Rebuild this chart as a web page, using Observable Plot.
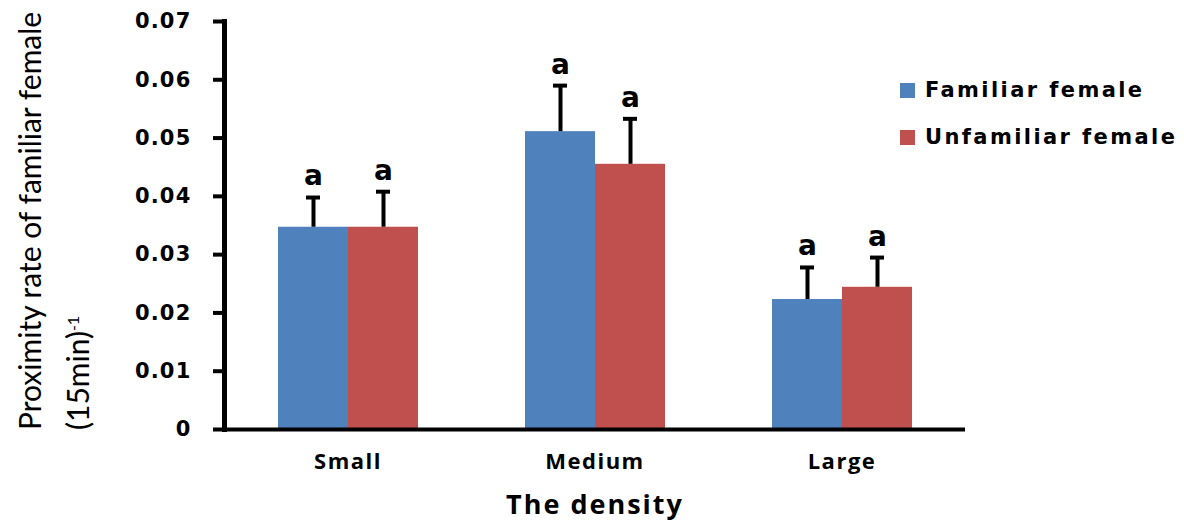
<!DOCTYPE html>
<html>
<head>
<meta charset="utf-8">
<script src="https://cdn.jsdelivr.net/npm/d3@7"></script>
<script src="https://cdn.jsdelivr.net/npm/@observablehq/plot@0.6"></script>
<style>
  html, body { margin: 0; padding: 0; background: #fff; }
  #wrap { position: relative; width: 1184px; height: 524px; }
  .chart g[aria-label="y-axis tick label"] text {
    font: bold 21px "DejaVu Sans", sans-serif; letter-spacing: 1.2px;
  }
  .chart g[aria-label="fx-axis tick label"] text {
    font: bold 22px "Open Sans", sans-serif; letter-spacing: 1.5px;
  }
  .chart g[aria-label="fx-axis label"] text {
    font: bold 27px "Open Sans", sans-serif; letter-spacing: 2px;
  }
  .chart g[aria-label="text"] text {
    font: bold 28px "DejaVu Sans", sans-serif;
  }
  #ylabel {
    position: absolute; left: 0; top: 430px; width: 430px;
    transform-origin: 0 0; transform: rotate(-90deg);
    font: 30px Lato, sans-serif; line-height: 48px; padding-top: 5px;
    white-space: nowrap; color: #000;
  }
  #ylabel sup { font-size: 16px; vertical-align: 10px; line-height: 0; }
  #legend {
    position: absolute; left: 900px; top: 76px;
    font: bold 21px "DejaVu Sans", sans-serif; letter-spacing: 2.4px; color: #000;
  }
  #legend .item { display: flex; align-items: center; height: 28px; margin-bottom: 19px; }
  #legend .sw { width: 15px; height: 15px; margin-right: 10px; flex: none; }
</style>
</head>
<body>
<div id="wrap"></div>
<script>
// Density groups on the x axis and the two female categories compared in each
const categories = ["Small", "Medium", "Large"];
const series = ["Familiar female", "Unfamiliar female"];

// Mean proximity rate per 15 min and its standard error, by density group
const familiarMean = [0.0347, 0.0511, 0.0223];
const familiarSE = [0.0051, 0.0079, 0.0055];
const unfamiliarMean = [0.0347, 0.0455, 0.0244];
const unfamiliarSE = [0.0061, 0.0078, 0.0051];

// Significance letters written above each error bar
const familiarLetters = ["a", "a", "a"];
const unfamiliarLetters = ["a", "a", "a"];

// Y axis ticks
const yTicks = [0, 0.01, 0.02, 0.03, 0.04, 0.05, 0.06, 0.07];

const colors = ["#4F81BD", "#C0504D"];

const rows = categories.flatMap((density, i) => [
  {density, series: series[0], mean: familiarMean[i], top: familiarMean[i] + familiarSE[i], letter: familiarLetters[i]},
  {density, series: series[1], mean: unfamiliarMean[i], top: unfamiliarMean[i] + unfamiliarSE[i], letter: unfamiliarLetters[i]}
]);

const chart = Plot.plot({
  className: "chart",
  width: 1184,
  height: 524,
  marginLeft: 224,
  marginRight: 219,
  marginTop: 21,
  marginBottom: 95,
  fx: {domain: categories, paddingInner: 0, paddingOuter: 0, label: null},
  x: {domain: series, paddingInner: 0, paddingOuter: 0.764, axis: null},
  y: {domain: [0, 0.07], axis: null},
  color: {domain: series, range: colors},
  marks: [
    Plot.barY(rows, {fx: "density", x: "series", y: "mean", fill: "series"}),
    Plot.ruleX(rows, {fx: "density", x: "series", y1: "mean", y2: "top", strokeWidth: 4}),
    Plot.tickY(rows, {fx: "density", x: "series", y: "top", strokeWidth: 4, insetLeft: 28, insetRight: 28}),
    Plot.text(rows, {fx: "density", x: "series", y: "top", text: "letter", dy: -21, fill: "#000"}),
    Plot.ruleY([0], {strokeWidth: 4}),
    Plot.frame({anchor: "left", facet: "super", strokeWidth: 5}),
    Plot.axisY({
      ticks: yTicks,
      tickFormat: d => d === 0 ? "0" : d.toFixed(2),
      tickSize: 11,
      tickPadding: 22,
      strokeWidth: 4,
      label: null
    }),
    Plot.axisFx({
      anchor: "bottom",
      tickSize: 0,
      tickPadding: 24,
      label: "The density",
      labelAnchor: "center",
      labelOffset: 84
    })
  ]
});

const wrap = document.getElementById("wrap");
wrap.appendChild(chart);

// Y axis title on two lines, rotated
const ylabel = document.createElement("div");
ylabel.id = "ylabel";
ylabel.innerHTML = "Proximity rate of familiar female<br>(15min)<sup>-1</sup>";
wrap.appendChild(ylabel);

// Legend built from the plot's colour scale
const color = chart.scale("color");
const legend = document.createElement("div");
legend.id = "legend";
color.domain.forEach((name, i) => {
  const item = document.createElement("div");
  item.className = "item";
  const sw = document.createElement("span");
  sw.className = "sw";
  sw.style.background = color.range[i];
  item.appendChild(sw);
  item.appendChild(document.createTextNode(name));
  legend.appendChild(item);
});
wrap.appendChild(legend);
</script>
</body>
</html>
